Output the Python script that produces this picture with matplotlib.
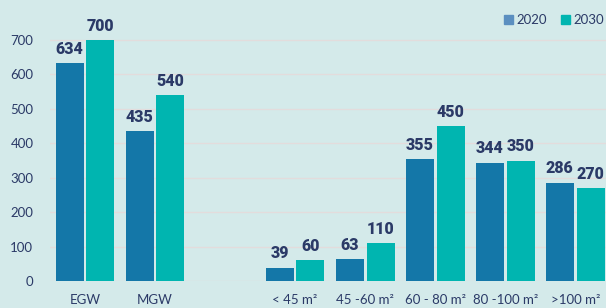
import matplotlib
matplotlib.use("Agg")
import matplotlib.pyplot as plt
import numpy as np

categories = ["EGW", "MGW", "", "< 45 m²", "45 -60 m²", "60 - 80 m²", "80 -100 m²", ">100 m²"]
v2020 = [634, 435, None, 39, 63, 355, 344, 286]
v2030 = [700, 540, None, 60, 110, 450, 350, 270]
yticks = [0, 100, 200, 300, 400, 500, 600, 700]

bg = "#d4eaea"
c2020 = "#1477a8"
c2030 = "#00b5b0"
txt = "#2b3a67"
tickfont = "Lato"
labelfont = "Roboto"

fig = plt.figure(figsize=(6.06, 3.08), dpi=100, facecolor=bg)
ax = fig.add_axes([50/606, 27/308, 556/606, 281/308], facecolor=bg)

x = np.arange(len(categories))
w = 0.4
off = 0.22
for i, (a, b) in enumerate(zip(v2020, v2030)):
    if a is None:
        continue
    ax.bar(x[i] - off, a, w, color=c2020, zorder=3)
    ax.bar(x[i] + off, b, w, color=c2030, zorder=3)
    ax.text(x[i] - off, a + 18, str(a), ha="center", va="bottom", color=txt,
            fontsize=11.5, fontweight=900, family=labelfont)
    ax.text(x[i] + off, b + 18, str(b), ha="center", va="bottom", color=txt,
            fontsize=11.5, fontweight=900, family=labelfont)

ax.set_xlim(-0.5, 7.44)
ax.set_ylim(0, 700 * 281 / 241)
ax.set_yticks(yticks)
ax.set_yticklabels([str(t) for t in yticks], color=txt, fontsize=9.5, family=tickfont)
ax.set_xticks(x)
ax.set_xticklabels(categories, color=txt, fontsize=9.5, family=tickfont)
ax.tick_params(axis="x", length=0, pad=9)
ax.tick_params(axis="y", length=0, pad=12)
for s in ax.spines.values():
    s.set_visible(False)
ax.grid(axis="y", color="#e3dcdc", linewidth=1, zorder=0)

# legend
fig.patches.append(plt.Rectangle((504/606, 1 - 24/308), 9/606, 9/308,
                                 transform=fig.transFigure, color="#5b8fc0"))
fig.text(516/606, 1 - 19.5/308, "2020", color=txt, fontsize=9.5, va="center", family=tickfont)
fig.patches.append(plt.Rectangle((561/606, 1 - 24/308), 9/606, 9/308,
                                 transform=fig.transFigure, color=c2030))
fig.text(573/606, 1 - 19.5/308, "2030", color=txt, fontsize=9.5, va="center", family=tickfont)

fig.savefig("out.png", dpi=100, facecolor=bg)
